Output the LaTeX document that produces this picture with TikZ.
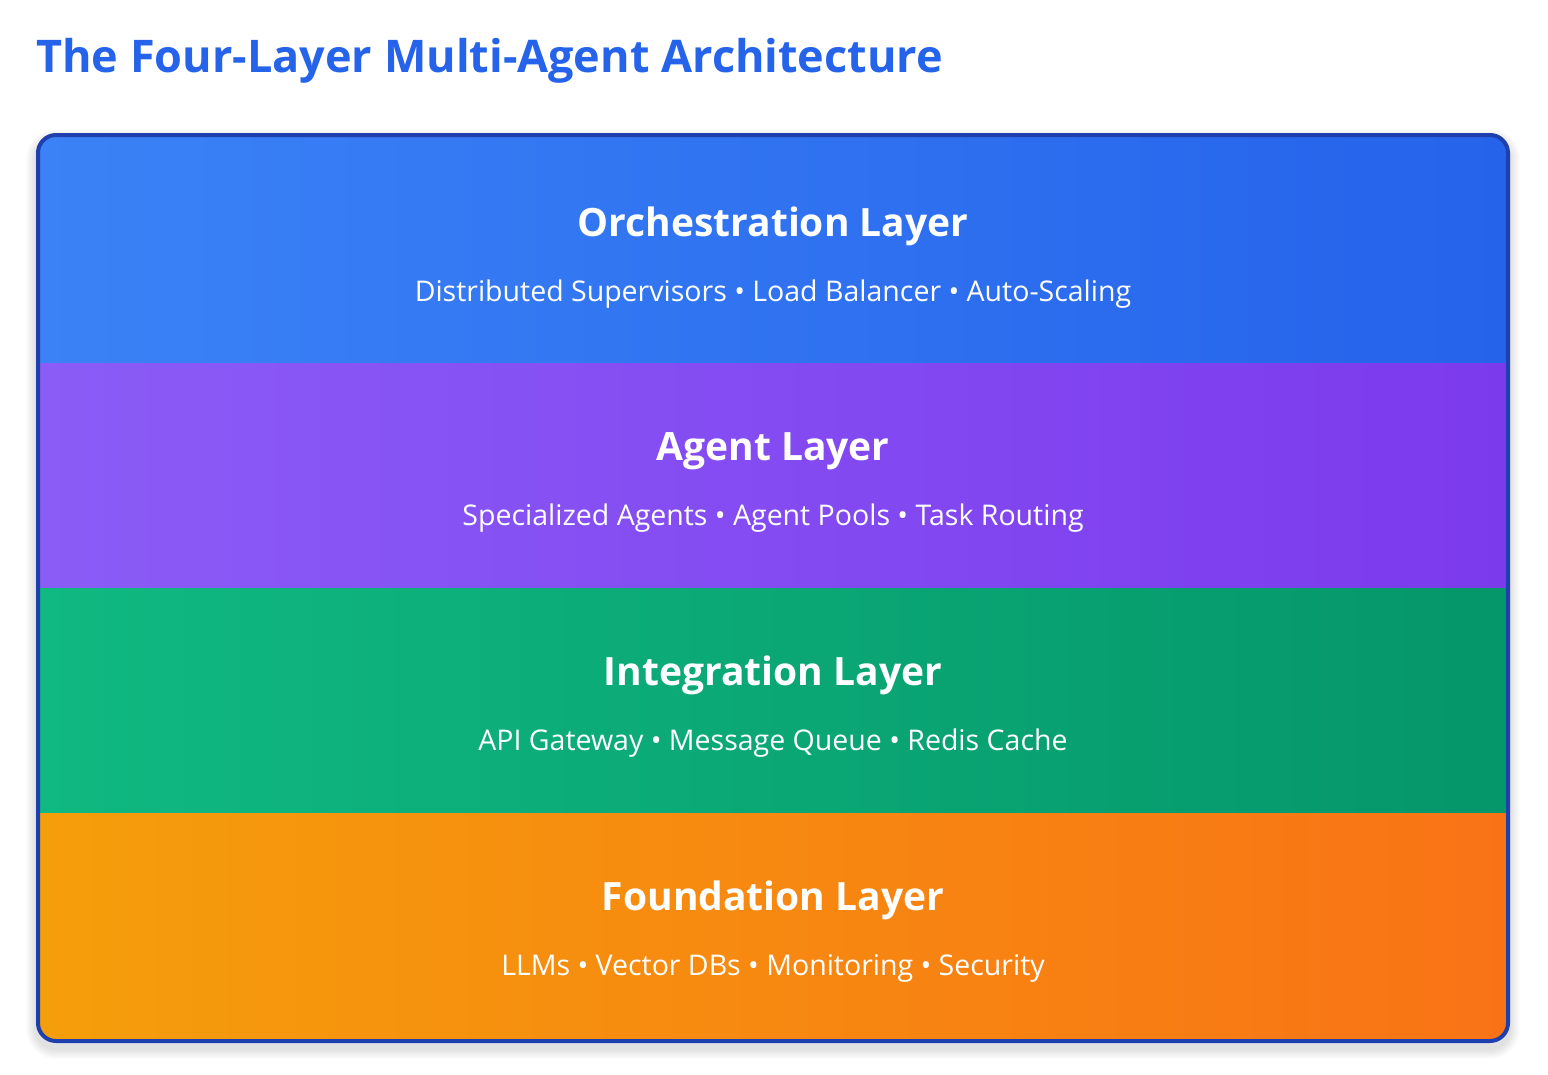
\documentclass[tikz,border=0pt]{standalone}
\usepackage{fontspec}
\setmainfont{Open Sans}
\definecolor{titleblue}{HTML}{2563EB}
\definecolor{frame}{HTML}{1E40AF}
\definecolor{oA}{HTML}{3B82F6}\definecolor{oB}{HTML}{2563EB}
\definecolor{aA}{HTML}{8B5CF6}\definecolor{aB}{HTML}{7C3AED}
\definecolor{iA}{HTML}{10B981}\definecolor{iB}{HTML}{059669}
\definecolor{fA}{HTML}{F59E0B}\definecolor{fB}{HTML}{F97316}
\tikzset{
 x=1pt,y=-1pt,
 head/.style={text=white,font=\bfseries\fontsize{39}{44}\selectfont,anchor=base},
 sub/.style={text=white,font=\fontsize{28.5}{32}\selectfont,anchor=base},
}
\begin{document}
\begin{tikzpicture}
\useasboundingbox[fill=white] (0,0) rectangle (1548,1074);
\node[anchor=base west,inner sep=0,text=titleblue,font=\bfseries\fontsize{45}{50}\selectfont] (title) at (36,72) {The Four-Layer Multi-Agent Architecture};
\foreach \i in {1,...,10}{
 \fill[black,opacity=0.012,rounded corners=20+\i] (36-\i,133-\i+6) rectangle (1510+\i,1043+\i+6);
}
\begin{scope}
\clip[rounded corners=17] (38,135) rectangle (1508,1041);
\shade[shading angle=-60,left color=oA,right color=oB] (38,135) rectangle (1508,363);
\shade[shading angle=-60,left color=aA,right color=aB] (38,363) rectangle (1508,588);
\shade[shading angle=-60,left color=iA,right color=iB] (38,588) rectangle (1508,813);
\shade[shading angle=-60,left color=fA,right color=fB] (38,813) rectangle (1508,1041);
\end{scope}
\draw[frame,line width=4,rounded corners=18] (38,135) rectangle (1508,1041);
\node[head] (h1) at (773,236) {Orchestration Layer};
\node[sub] (s1) at (773,301) {Distributed Supervisors • Load Balancer • Auto-Scaling};
\node[head] (h2) at (773,460) {Agent Layer};
\node[sub] (s2) at (773,525) {Specialized Agents • Agent Pools • Task Routing};
\node[head] (h3) at (773,685) {Integration Layer};
\node[sub] (s3) at (773,750) {API Gateway • Message Queue • Redis Cache};
\node[head] (h4) at (773,910) {Foundation Layer};
\node[sub] (s4) at (773,975) {LLMs • Vector DBs • Monitoring • Security};
\end{tikzpicture}
\end{document}
